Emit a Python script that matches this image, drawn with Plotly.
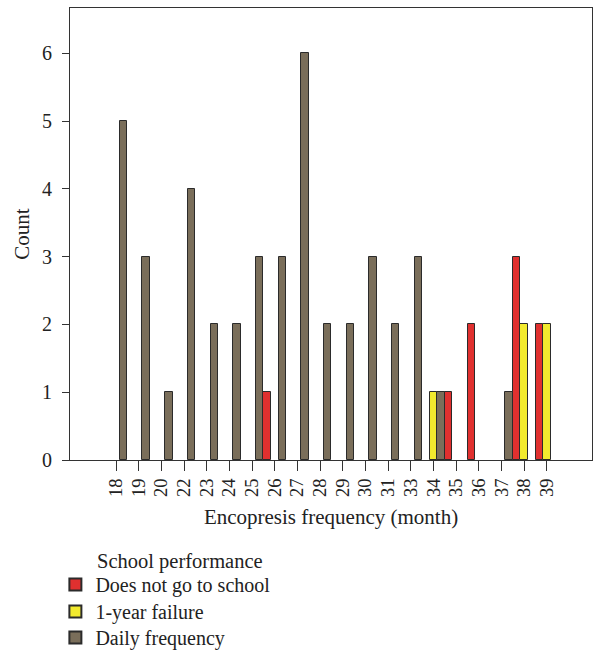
import plotly.graph_objects as go

categories = ["18", "19", "20", "22", "23", "24", "25", "26", "27", "28",
              "29", "30", "31", "33", "34", "35", "36", "37", "38", "39"]

does_not_go = [None, None, None, None, None, None, None, 1, None, None,
               None, None, None, None, None, 1, 2, None, 3, 2]
one_year_failure = [None, None, None, None, None, None, None, None, None, None,
                    None, None, None, None, 1, None, None, None, 2, 2]
daily_frequency = [5, 3, 1, 4, 2, 2, 3, 3, 6, 2,
                   2, 3, 2, 3, 1, None, None, 1, None, None]

y_ticks = [0, 1, 2, 3, 4, 5, 6]

FONT = "Liberation Serif"
line = dict(color="#2b2b2b", width=1)

fig = go.Figure()
fig.add_trace(go.Bar(x=categories, y=does_not_go, name="Does not go to school",
                     marker=dict(color="#e0302f", line=line), legend="legend"))
fig.add_trace(go.Bar(x=categories, y=one_year_failure, name="1-year failure",
                     marker=dict(color="#f2ea2e", line=line), legend="legend2"))
fig.add_trace(go.Bar(x=categories, y=daily_frequency, name="Daily frequency",
                     marker=dict(color="#7a6e5a", line=line), legend="legend3"))

legend_common = dict(x=-0.028, xanchor="left", yanchor="top",
                     font=dict(family=FONT, size=20, color="#222"),
                     itemsizing="constant", bgcolor="rgba(0,0,0,0)")

fig.update_layout(
    width=593, height=654,
    margin=dict(l=70, r=1, t=8, b=194, autoexpand=False),
    barmode="group", bargap=0, bargroupgap=0,
    plot_bgcolor="white", paper_bgcolor="white",
    font=dict(family=FONT, size=20, color="#222"),
    showlegend=True,
    legend=dict(y=-0.2323, **legend_common),
    legend2=dict(y=-0.292, **legend_common),
    legend3=dict(y=-0.3496, **legend_common),
    annotations=[dict(text="School performance", x=0.048, xref="paper",
                      y=-0.195, yref="paper", xanchor="left", yanchor="top",
                      showarrow=False, font=dict(family=FONT, size=20.5, color="#222"))],
)
fig.update_xaxes(
    type="category", categoryorder="array", categoryarray=categories,
    range=[-2.03, 20.99], tickangle=-90,
    showline=True, linecolor="#333", linewidth=1, mirror=True,
    ticks="outside", ticklen=10, tickcolor="#333",
    showgrid=False, zeroline=False,
    title=dict(text="Encopresis frequency (month)", font=dict(family=FONT, size=21), standoff=13),
    tickfont=dict(family=FONT, size=18.5),
)
fig.update_yaxes(
    range=[0, 6.67], tickvals=y_ticks,
    showline=True, linecolor="#333", linewidth=1, mirror=True,
    ticks="outside", ticklen=7, tickcolor="#333", ticklabelstandoff=6,
    showgrid=False, zeroline=False,
    title=dict(text="Count", font=dict(family=FONT, size=21), standoff=6),
    tickfont=dict(family=FONT, size=20),
)

fig.write_html("out.html",
               config={"displayModeBar": False},
               post_script="document.body.style.margin='0';document.body.style.overflow='hidden';")
